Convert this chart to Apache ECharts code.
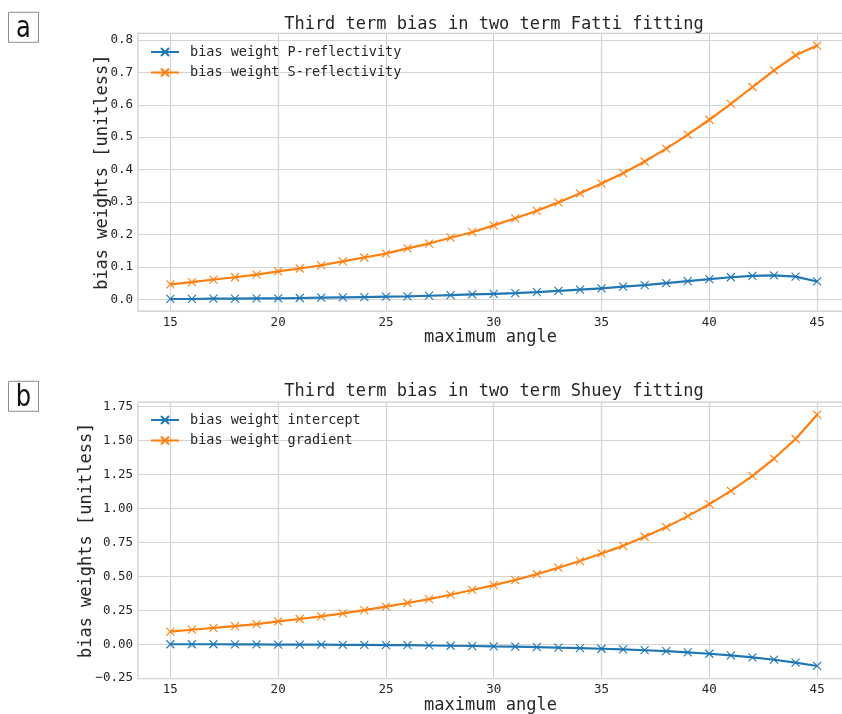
<!DOCTYPE html>
<html><head><meta charset="utf-8">
<script src="https://cdn.jsdelivr.net/npm/echarts@6/dist/echarts.min.js"></script>
<style>html,body{margin:0;padding:0;background:#fff}#c{width:842px;height:714px}</style>
</head><body><div id="c"></div>
<script>
// ---- data ----
const angles = [15,16,17,18,19,20,21,22,23,24,25,26,27,28,29,30,31,32,33,34,35,36,37,38,39,40,41,42,43,44,45];
const fattiP = [0.001,0.001,0.002,0.002,0.003,0.003,0.004,0.005,0.006,0.007,0.008,0.009,0.011,0.013,0.015,0.017,0.019,0.022,0.026,0.030,0.034,0.039,0.044,0.050,0.056,0.062,0.068,0.072,0.074,0.070,0.055];
const fattiS = [0.046,0.053,0.061,0.068,0.076,0.086,0.095,0.105,0.117,0.129,0.141,0.157,0.172,0.190,0.207,0.228,0.250,0.273,0.299,0.327,0.357,0.389,0.425,0.465,0.508,0.554,0.603,0.655,0.706,0.753,0.783];
const shueyIntercept = [0.000,0.000,0.000,-0.001,-0.001,-0.002,-0.002,-0.003,-0.004,-0.005,-0.006,-0.007,-0.009,-0.011,-0.013,-0.016,-0.018,-0.021,-0.025,-0.028,-0.033,-0.038,-0.044,-0.051,-0.060,-0.070,-0.082,-0.096,-0.114,-0.135,-0.160];
const shueyGradient = [0.093,0.107,0.120,0.134,0.149,0.168,0.186,0.206,0.228,0.252,0.277,0.304,0.333,0.365,0.400,0.436,0.473,0.517,0.564,0.613,0.669,0.725,0.792,0.863,0.944,1.032,1.130,1.240,1.368,1.512,1.691];
const xTicks = [15,20,25,30,35,40,45];
const yTicksTop = [0.0,0.1,0.2,0.3,0.4,0.5,0.6,0.7,0.8];
const yTickLabelsTop = ['0.0','0.1','0.2','0.3','0.4','0.5','0.6','0.7','0.8'];
const yTicksBottom = [-0.25,0.0,0.25,0.5,0.75,1.0,1.25,1.5,1.75];
const yTickLabelsBottom = ['\u22120.25','0.00','0.25','0.50','0.75','1.00','1.25','1.50','1.75'];
const titles = ['Third term bias in two term Fatti fitting','Third term bias in two term Shuey fitting'];
const namesTop = ['bias weight P-reflectivity','bias weight S-reflectivity'];
const namesBottom = ['bias weight intercept','bias weight gradient'];
const panelLetters = ['a','b'];
const xName = 'maximum angle';
const yName = 'bias weights [unitless]';

// ---- styling ----
const MONO = 'DejaVu Sans Mono';
const TXT = '#262626';
const GRIDC = '#d3d3d3';
const BLUE = '#1f77b4', ORANGE = '#ff7f0e';
const XSYM = 'path://M0 0L10 10M10 0L0 10';

function pairs(ys){ return angles.map((a,i)=>[a, ys[i]]); }
function lookup(ticks, labels){ return v => { for (let i=0;i<ticks.length;i++){ if (Math.abs(ticks[i]-v)<1e-9) return labels[i]; } return ''; }; }

function xAxisCfg(gi){
  return {
    type:'value', gridIndex:gi, min:13.5, max:46.2,
    name: xName, nameLocation:'middle', nameGap:18, nameMoveOverlap:false,
    nameTextStyle:{fontFamily:MONO, fontSize:17, color:TXT},
    axisLine:{show:false}, axisTick:{show:false, customValues:xTicks},
    axisLabel:{customValues:xTicks, fontFamily:MONO, fontSize:12.5, color:TXT, margin:5},
    splitLine:{show:true, lineStyle:{color:GRIDC, width:1.2}}
  };
}
function yAxisCfg(gi, min, max, ticks, labels, gap){
  return {
    type:'value', gridIndex:gi, min:min, max:max,
    name: yName, nameLocation:'middle', nameGap:gap, nameMoveOverlap:false,
    nameTextStyle:{fontFamily:MONO, fontSize:17, color:TXT},
    axisLine:{show:false}, axisTick:{show:false, customValues:ticks},
    axisLabel:{customValues:ticks, formatter:lookup(ticks, labels), fontFamily:MONO, fontSize:12.5, color:TXT, margin:5},
    splitLine:{show:true, lineStyle:{color:GRIDC, width:1.2}}
  };
}
function seriesCfg(name, gi, ys, color){
  return {
    type:'line', name:name, xAxisIndex:gi, yAxisIndex:gi, data:pairs(ys),
    symbol:XSYM, symbolSize:8, showSymbol:true, showAllSymbol:true,
    lineStyle:{color:color, width:2.2},
    itemStyle:{color:color, borderColor:color, borderWidth:1.1},
    emphasis:{disabled:true}, animation:false
  };
}
function legendCfg(names, top){
  return {
    data:names, orient:'vertical', left:150, top:top, itemWidth:28, itemHeight:10, itemGap:6.5,
    selectedMode:false, padding:0,
    textStyle:{fontFamily:MONO, fontSize:13.5, color:TXT, padding:[0,0,0,6]}
  };
}
function panelGraphic(letter, y){
  return [
    {type:'rect', shape:{x:8.5, y:y, width:30, height:30}, style:{fill:'#fff', stroke:'#8c8c8c', lineWidth:1}},
    {type:'text', x:23.5, y:y+16.5, scaleX:0.78, scaleY:1,
      style:{text:letter, x:0, y:0, textAlign:'center', textVerticalAlign:'middle',
      font:'31px "Liberation Sans Narrow", "DejaVu Sans", sans-serif', fill:'#111'}}
  ];
}

const chart = echarts.init(document.getElementById('c'), null, {renderer:'canvas'});
chart.setOption({
  backgroundColor:'#ffffff',
  animation:false,
  title:[
    {text:titles[0], left:494, top:16, textAlign:'center', padding:0, textStyle:{fontFamily:MONO, fontSize:17, fontWeight:'normal', color:TXT}},
    {text:titles[1], left:494, top:383.5, textAlign:'center', padding:0, textStyle:{fontFamily:MONO, fontSize:17, fontWeight:'normal', color:TXT}}
  ],
  legend:[ legendCfg(namesTop, 45), legendCfg(namesBottom, 413) ],
  grid:[
    {left:138, top:33.3, width:705, height:277.7, show:true, borderColor:'#cccccc', borderWidth:1.25, backgroundColor:'transparent', outerBoundsMode:'none'},
    {left:138, top:402, width:705, height:276.7, show:true, borderColor:'#cccccc', borderWidth:1.25, backgroundColor:'transparent', outerBoundsMode:'none'}
  ],
  xAxis:[ xAxisCfg(0), xAxisCfg(1) ],
  yAxis:[
    yAxisCfg(0, -0.0361, 0.8207, yTicksTop, yTickLabelsTop, 27),
    yAxisCfg(1, -0.2537, 1.7846, yTicksBottom, yTickLabelsBottom, 43)
  ],
  series:[
    seriesCfg(namesTop[0], 0, fattiP, BLUE),
    seriesCfg(namesTop[1], 0, fattiS, ORANGE),
    seriesCfg(namesBottom[0], 1, shueyIntercept, BLUE),
    seriesCfg(namesBottom[1], 1, shueyGradient, ORANGE)
  ],
  graphic:[].concat(panelGraphic(panelLetters[0], 12.3), panelGraphic(panelLetters[1], 381.3))
});
</script></body></html>
